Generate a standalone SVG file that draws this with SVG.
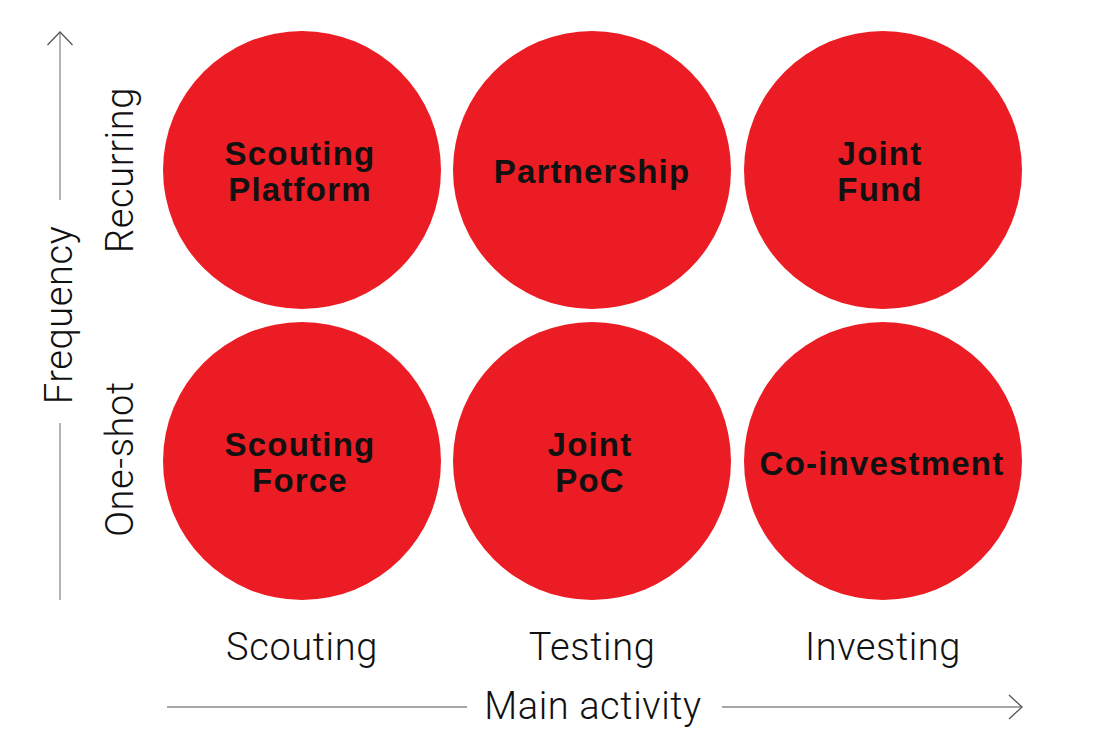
<svg xmlns="http://www.w3.org/2000/svg" width="1093" height="755" viewBox="0 0 1093 755">
<style>
.c{fill:#ec1c24}
.lb{font-family:"Liberation Sans",Arial,sans-serif;font-weight:700;font-size:33px;letter-spacing:1.2px;fill:#111;text-anchor:middle}
.ax{font-family:Roboto,"Liberation Sans",sans-serif;font-weight:300;font-size:38px;letter-spacing:0.6px;fill:#111;text-anchor:middle}
.ln{stroke:#8a8a8a;stroke-width:1.3;fill:none}
.lh{stroke:#a6a6a6;stroke-width:2;fill:none}
.ah{stroke:#555;stroke-width:1.3;fill:none}
</style>
<rect width="1093" height="755" fill="#fff"/>
<g id="connectors">
<line class="ln" x1="60" y1="32" x2="60" y2="200"/>
<line class="ln" x1="60" y1="423" x2="60" y2="600"/>
<polyline class="ah" points="47.5,45 60,32 72.5,45"/>
<line class="lh" x1="167" y1="707" x2="467" y2="707"/>
<line class="lh" x1="722" y1="707" x2="1021" y2="707"/>
<polyline class="ah" points="1009,695 1022,707 1009,719"/>
</g>
<g id="axis-labels">
<text class="ax" transform="translate(72,315) rotate(-90)">Frequency</text>
<text class="ax" transform="translate(133,170) rotate(-90)">Recurring</text>
<text class="ax" transform="translate(133,459) rotate(-90)">One-shot</text>
<text class="ax" x="302" y="660">Scouting</text>
<text class="ax" x="592" y="660">Testing</text>
<text class="ax" x="883" y="660">Investing</text>
<text class="ax" x="593" y="719">Main activity</text>
</g>
<g id="scouting-platform"><circle class="c" cx="302" cy="170" r="139"/><text class="lb" x="300" y="165">Scouting</text><text class="lb" x="300" y="201">Platform</text></g>
<g id="partnership"><circle class="c" cx="592" cy="170" r="139"/><text class="lb" x="592" y="183">Partnership</text></g>
<g id="joint-fund"><circle class="c" cx="883" cy="170" r="139"/><text class="lb" x="880" y="165">Joint</text><text class="lb" x="880" y="201">Fund</text></g>
<g id="scouting-force"><circle class="c" cx="302" cy="461" r="139"/><text class="lb" x="300" y="456">Scouting</text><text class="lb" x="300" y="492">Force</text></g>
<g id="joint-poc"><circle class="c" cx="592" cy="461" r="139"/><text class="lb" x="590" y="456">Joint</text><text class="lb" x="590" y="492">PoC</text></g>
<g id="co-investment"><circle class="c" cx="883" cy="461" r="139"/><text class="lb" x="882" y="475">Co-investment</text></g>
</svg>
